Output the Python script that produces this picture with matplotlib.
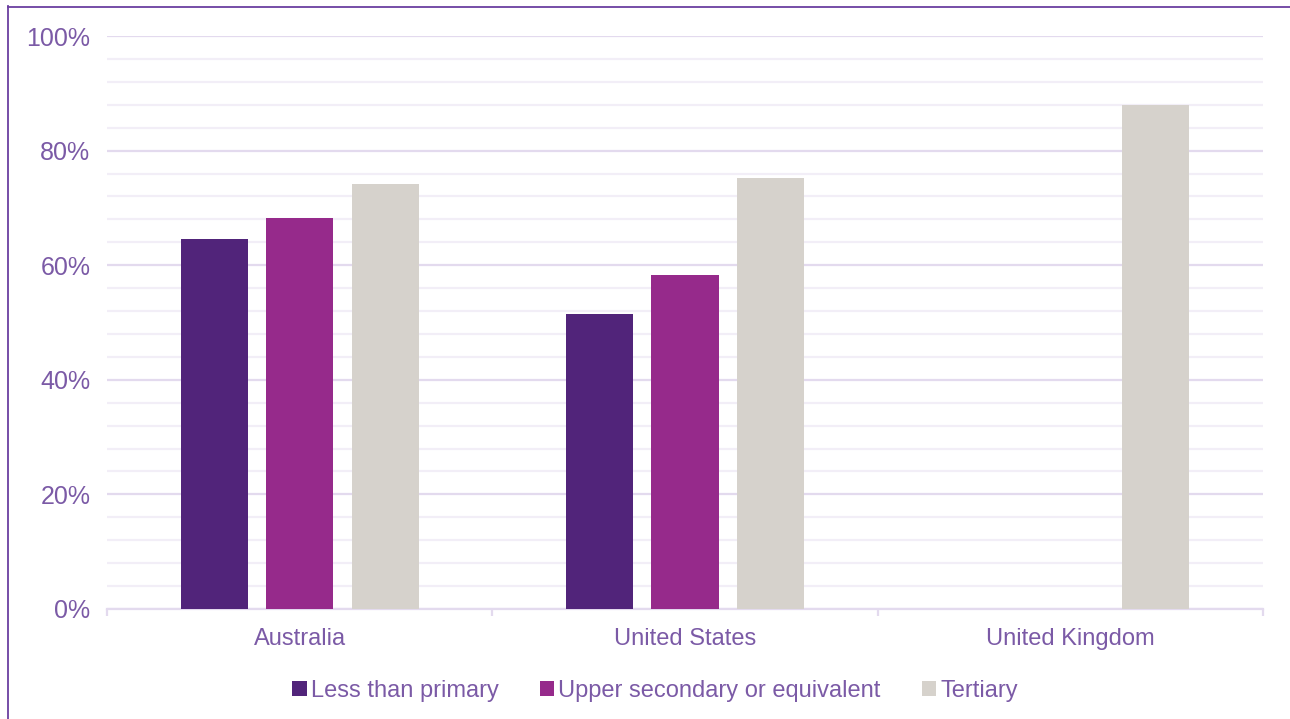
import numpy as np
import matplotlib.pyplot as plt
from matplotlib.ticker import MultipleLocator, FixedLocator, PercentFormatter
from matplotlib.lines import Line2D

plt.rcParams['font.family'] = ['Liberation Sans', 'DejaVu Sans']

countries = ['Australia', 'United States', 'United Kingdom']
series_names = ['Less than primary', 'Upper secondary or equivalent', 'Tertiary']
less_than_primary = [64.5, 51.5, np.nan]
upper_secondary = [68.2, 58.3, np.nan]
tertiary = [74.2, 75.2, 88.0]

colors = ['#51247A', '#962A8B', '#D6D2CC']
text_color = '#7B5AA6'
major_grid = '#E3DAEE'
minor_grid = '#F2EEF7'

fig = plt.figure(figsize=(12.9, 7.19), dpi=100)
ax = fig.add_axes([107 / 1290, 1 - 609 / 719, (1263 - 107) / 1290, (609 - 36) / 719])

x = np.arange(len(countries))
width = 0.174
offsets = [-0.222, 0, 0.222]
for vals, name, col, off in zip([less_than_primary, upper_secondary, tertiary],
                                series_names, colors, offsets):
    ax.bar(x + off, vals, width, color=col, label=name, zorder=3)

ax.set_xlim(-0.5, len(countries) - 0.5)
ax.set_ylim(0, 100)

# y axis: labelled gridlines every 20%, faint ones every 4%
ax.yaxis.set_major_locator(MultipleLocator(20))
ax.yaxis.set_minor_locator(MultipleLocator(4))
ax.yaxis.set_major_formatter(PercentFormatter(decimals=0))
ax.grid(axis='y', which='major', color=major_grid, lw=1.6, zorder=1)
ax.grid(axis='y', which='minor', color=minor_grid, lw=1.6, zorder=0)
ax.tick_params(axis='y', which='both', length=0, pad=12, labelsize=18, labelcolor=text_color)

# x axis: tick marks between groups, labels centred under groups
ax.xaxis.set_major_locator(FixedLocator(np.arange(-0.5, len(countries), 1)))
ax.xaxis.set_minor_locator(FixedLocator(x))
ax.set_xticklabels([])
ax.set_xticklabels(countries, minor=True)
ax.tick_params(axis='x', which='major', length=5, width=1.6, color=major_grid, direction='out')
ax.tick_params(axis='x', which='minor', length=0, pad=14, labelsize=17, labelcolor=text_color)

for side in ['top', 'right', 'left']:
    ax.spines[side].set_visible(False)
ax.spines['bottom'].set_color(major_grid)
ax.spines['bottom'].set_linewidth(1.6)

leg = fig.legend(loc='center', bbox_to_anchor=(0.508, 1 - 691 / 719), ncol=3, frameon=False,
                 fontsize=17, handlelength=0.6, handleheight=0.6, handletextpad=0.18,
                 columnspacing=1.75, labelcolor=text_color)

# outer frame lines on the left and top
fig.add_artist(Line2D([7.5 / 1290, 7.5 / 1290], [0, 1 - 6 / 719], color='#6B3FA0', lw=1.3))
fig.add_artist(Line2D([7.5 / 1290, 1], [1 - 6.5 / 719, 1 - 6.5 / 719], color='#6B3FA0', lw=1.3))

fig.savefig('out.png', dpi=100)
